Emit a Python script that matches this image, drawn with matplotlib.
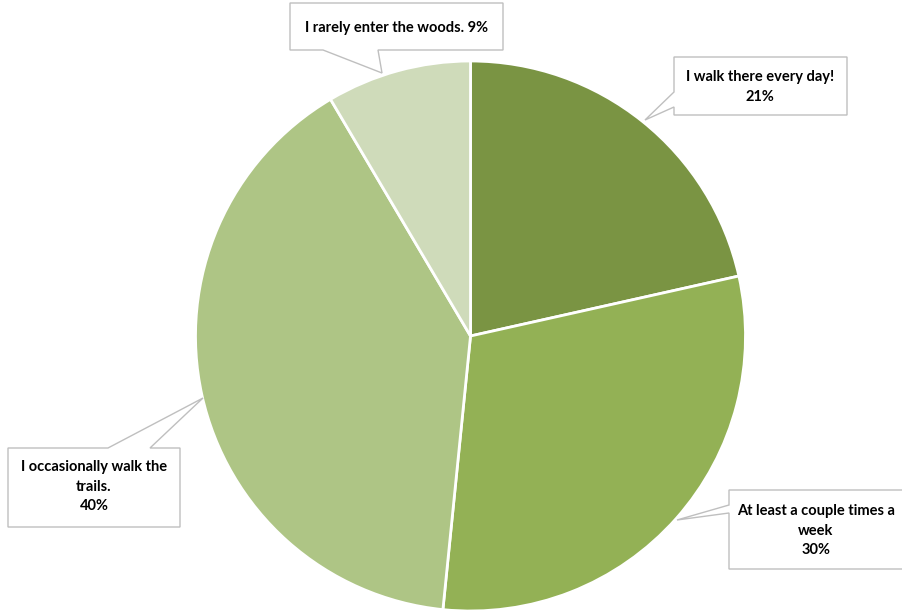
import matplotlib.pyplot as plt
from matplotlib.patches import Polygon

# slice sizes, labels as printed on the chart
answers = ['I walk there every day!', 'At least a couple times a\nweek',
           'I occasionally walk the\ntrails.', 'I rarely enter the woods.']
shares = [21.5, 30.1, 39.9, 8.5]
pct_text = ['21%', '30%', '40%', '9%']
colors = ['#7A9443', '#93B155', '#AEC585', '#CFDBBA']

plt.rcParams['font.family'] = ['Lato', 'DejaVu Sans']

fig = plt.figure(figsize=(9.02, 6.12), dpi=100)
ax = fig.add_axes([0, 0, 1, 1])

# y axis runs downwards (pixel-like), so -90 is the top and counterclock
# turns clockwise on screen
ax.pie(shares, colors=colors, startangle=-90, counterclock=True,
       center=(470.5, 336), radius=275, frame=True,
       wedgeprops=dict(edgecolor='white', linewidth=2))
ax.set_xlim(0, 902)
ax.set_ylim(612, 0)
ax.set_aspect('equal')
ax.axis('off')

# callout outlines (box + pointer)
callouts = [
    [(674, 57), (847, 57), (847, 115), (674, 115), (674, 107), (645, 120), (674, 92)],
    [(729, 490), (905, 490), (905, 569), (729, 569), (729, 513), (677, 520), (729, 505)],
    [(8, 448), (108, 448), (203, 398), (150, 448), (180, 448), (180, 527), (8, 527)],
    [(290, 3), (503, 3), (503, 50), (378, 50), (382, 73), (323, 50), (290, 50)],
]
text_pos = [(760, 87), (816, 531), (94, 487), (397, 28)]

for i in range(len(answers)):
    poly = Polygon(callouts[i], closed=True, facecolor='white',
                   edgecolor='#BFBFBF', linewidth=1, zorder=3)
    ax.add_patch(poly)
    if i == 3:
        txt = '{} {}'.format(answers[i], pct_text[i])
    else:
        txt = '{}\n{}'.format(answers[i], pct_text[i])
    ax.text(text_pos[i][0], text_pos[i][1], txt, ha='center', va='center',
            fontsize=10.5, fontweight='bold', color='#000000',
            linespacing=1.5, zorder=4)

fig.savefig('out.png', dpi=100)
